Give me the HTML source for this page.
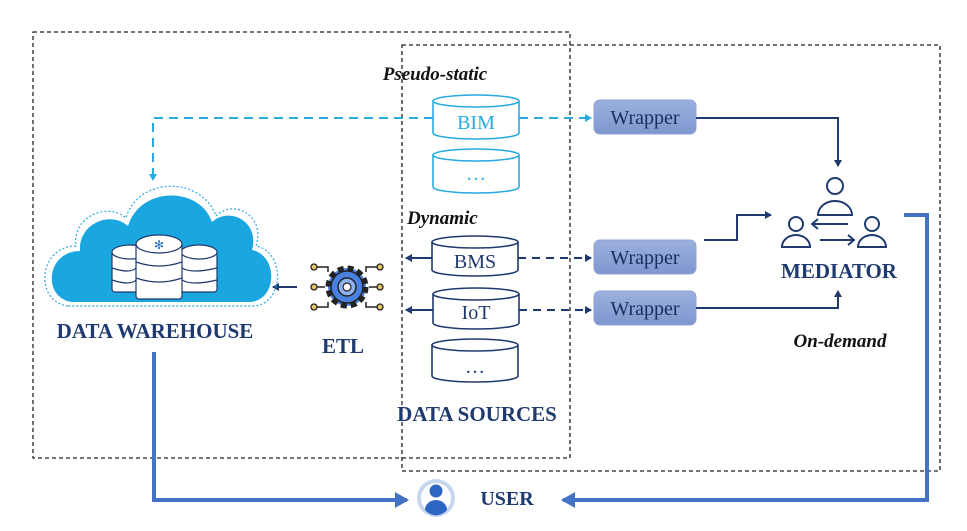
<!DOCTYPE html>
<html><head><style>body{margin:0;background:#fff}svg{display:block}</style></head><body>
<svg width="967" height="531" viewBox="0 0 967 531" xmlns="http://www.w3.org/2000/svg" font-family="Liberation Serif, serif">
<defs>
<marker id="ad" markerWidth="8" markerHeight="8" refX="6" refY="4" orient="auto" markerUnits="userSpaceOnUse"><path d="M0,0 L7,4 L0,8 Z" fill="#1f3a6e"/></marker>
<marker id="al" markerWidth="8" markerHeight="8" refX="6" refY="4" orient="auto" markerUnits="userSpaceOnUse"><path d="M0,0 L7,4 L0,8 Z" fill="#29abe2"/></marker>
<marker id="ab" markerWidth="16" markerHeight="16" refX="12" refY="8" orient="auto" markerUnits="userSpaceOnUse"><path d="M0,0 L14,8 L0,16 Z" fill="#4472c4"/></marker>
<linearGradient id="wg" x1="0" y1="0" x2="0" y2="1"><stop offset="0" stop-color="#9bb0de"/><stop offset="1" stop-color="#7f97cf"/></linearGradient>
</defs>
<rect x="33" y="32" width="537" height="426" fill="none" stroke="#222" stroke-width="1.3" stroke-dasharray="4,3"/>
<rect x="402" y="45" width="538" height="426" fill="none" stroke="#222" stroke-width="1.3" stroke-dasharray="4,3"/>

<text x="435" y="80" font-size="19" font-weight="bold" font-style="italic" text-anchor="middle" fill="#111">Pseudo-static</text>
<text x="407" y="224" font-size="19" font-weight="bold" font-style="italic" fill="#111">Dynamic</text>
<text x="840" y="347" font-size="19" font-weight="bold" font-style="italic" text-anchor="middle" fill="#111">On-demand</text>

<g fill="#fff" stroke-width="1.6">
<g stroke="#29abe2">
<path d="M433,101 v32 a43,6 0 0 0 86,0 v-32"/><ellipse cx="476" cy="101" rx="43" ry="6"/>
<path d="M433,155 v32 a43,6 0 0 0 86,0 v-32"/><ellipse cx="476" cy="155" rx="43" ry="6"/>
</g>
<g stroke="#1f3a6e">
<path d="M432,242 v28 a43,6 0 0 0 86,0 v-28"/><ellipse cx="475" cy="242" rx="43" ry="6"/>
<path d="M433,294 v29 a43,6 0 0 0 86,0 v-29"/><ellipse cx="476" cy="294" rx="43" ry="6"/>
<path d="M432,345 v31 a43,6 0 0 0 86,0 v-31"/><ellipse cx="475" cy="345" rx="43" ry="6"/>
</g>
</g>
<g font-size="20" text-anchor="middle">
<text x="476" y="129" fill="#29abe2">BIM</text>
<text x="476" y="180" fill="#29abe2">…</text>
<text x="475" y="268" fill="#1f3a6e">BMS</text>
<text x="476" y="319" fill="#1f3a6e">IoT</text>
<text x="475" y="373" fill="#1f3a6e">…</text>
</g>
<text x="477" y="421" font-size="21" font-weight="bold" text-anchor="middle" fill="#1f3a6e">DATA SOURCES</text>

<g fill="url(#wg)" stroke="#8ea2d6">
<rect x="594" y="100" width="102" height="34" rx="6"/>
<rect x="594" y="240" width="102" height="34" rx="6"/>
<rect x="594" y="291" width="102" height="34" rx="6"/>
</g>
<g font-size="20" text-anchor="middle" fill="#1a2f5e">
<text x="645" y="124">Wrapper</text>
<text x="645" y="264">Wrapper</text>
<text x="645" y="315">Wrapper</text>
</g>

<path d="M433,118 H153 V180" fill="none" stroke="#29abe2" stroke-width="2" stroke-dasharray="9,6" marker-end="url(#al)"/>
<line x1="519" y1="118" x2="591" y2="118" stroke="#29abe2" stroke-width="2" stroke-dasharray="9,6" marker-end="url(#al)"/>
<g stroke="#1f3a6e" stroke-width="2" fill="none">
<line x1="518" y1="258" x2="591" y2="258" stroke-dasharray="8,6" marker-end="url(#ad)"/>
<line x1="519" y1="310" x2="591" y2="310" stroke-dasharray="8,6" marker-end="url(#ad)"/>
<line x1="432" y1="258" x2="406" y2="258" marker-end="url(#ad)"/>
<line x1="433" y1="310" x2="406" y2="310" marker-end="url(#ad)"/>
<line x1="297" y1="287" x2="273" y2="287" marker-end="url(#ad)"/>
<path d="M696,118 H838 V166" marker-end="url(#ad)"/>
<path d="M704,240 H737 V215 H771" marker-end="url(#ad)"/>
<path d="M696,308 H838 V291" marker-end="url(#ad)"/>
</g>

<g>
<path d="M68,306 C34,302 38,246 76,246 C72,216 108,202 126,218 C138,176 202,176 216,216 C234,198 266,216 256,246 C286,252 284,304 254,306 Z" fill="none" stroke="#29abe2" stroke-width="1.2" stroke-dasharray="2,2"/>
<path d="M72,302 C42,298 46,251 80,251 C78,224 110,210 128,226 C140,186 200,186 212,222 C230,206 260,222 252,250 C278,255 278,300 250,302 Z" fill="#1aa7e0"/>
<g fill="#fff" stroke="#1f3a6e" stroke-width="1.2">
<rect x="112" y="252" width="36" height="40" rx="3"/><ellipse cx="130" cy="252" rx="18" ry="7"/>
<rect x="181" y="252" width="36" height="40" rx="3"/><ellipse cx="199" cy="252" rx="18" ry="7"/>
<rect x="136" y="244" width="46" height="55" rx="3"/><ellipse cx="159" cy="244" rx="23" ry="9"/>
<path d="M136,262 q23,8 46,0 M136,278 q23,8 46,0 M112,268 q18,6 24,0 M112,280 q18,6 24,0 M182,268 q10,6 35,0 M182,280 q10,6 35,0" fill="none"/>
</g>
<text x="159" y="249" font-size="12" text-anchor="middle" fill="#2a6fc0">✻</text>
</g>
<text x="155" y="338" font-size="21" font-weight="bold" text-anchor="middle" fill="#1f3a6e">DATA WAREHOUSE</text>

<g transform="translate(347,287)">
<g stroke="#222" stroke-width="1.5" fill="none">
<path d="M-19,-15 V-20 H-30 M19,-15 V-20 H30 M-19,15 V20 H-30 M19,15 V20 H30 M-22,0 H-30 M22,0 H30"/>
</g>
<g fill="#e6c56a" stroke="#222" stroke-width="1.3">
<circle cx="-33" cy="-20" r="3"/><circle cx="33" cy="-20" r="3"/><circle cx="-33" cy="0" r="3"/><circle cx="33" cy="0" r="3"/><circle cx="-33" cy="20" r="3"/><circle cx="33" cy="20" r="3"/>
</g>
<circle r="19" fill="#4a80e0" stroke="#222" stroke-width="5" stroke-dasharray="6,4"/>
<circle r="16" fill="#4a80e0" stroke="#222" stroke-width="1.5"/>
<circle r="9" fill="#8fb3f0" stroke="#222" stroke-width="1.5"/>
<circle r="4" fill="#fff" stroke="#222" stroke-width="1.2"/>
</g>
<text x="343" y="353" font-size="21" font-weight="bold" text-anchor="middle" fill="#1f3a6e">ETL</text>

<g stroke="#1f3a6e" stroke-width="2" fill="none">
<circle cx="835" cy="186" r="8"/><path d="M818,215 a17,14 0 0 1 34,0 Z"/>
<circle cx="796" cy="224" r="7"/><path d="M782,247 a14,12 0 0 1 28,0 Z"/>
<circle cx="872" cy="224" r="7"/><path d="M858,247 a14,12 0 0 1 28,0 Z"/>
<path d="M848,224 H812 M818,219 L812,224 L818,229"/>
<path d="M820,240 H854 M848,235 L854,240 L848,245"/>
</g>
<text x="839" y="278" font-size="21" font-weight="bold" text-anchor="middle" fill="#1f3a6e">MEDIATOR</text>

<g stroke="#4472c4" stroke-width="4" fill="none">
<path d="M904,215 H927 V500 H563" marker-end="url(#ab)"/>
<path d="M154,352 V500 H407" marker-end="url(#ab)"/>
</g>

<circle cx="436" cy="498" r="19" fill="#c7d5ef"/>
<circle cx="436" cy="498" r="15" fill="#fff"/>
<circle cx="436" cy="491" r="6.5" fill="#2f66c4"/>
<path d="M425,510 a11,10 0 0 1 22,0 a14,14 0 0 1 -22,0 Z" fill="#2f66c4"/>
<text x="507" y="505" font-size="20" font-weight="bold" text-anchor="middle" fill="#1f3a6e">USER</text>
</svg>
</body></html>
